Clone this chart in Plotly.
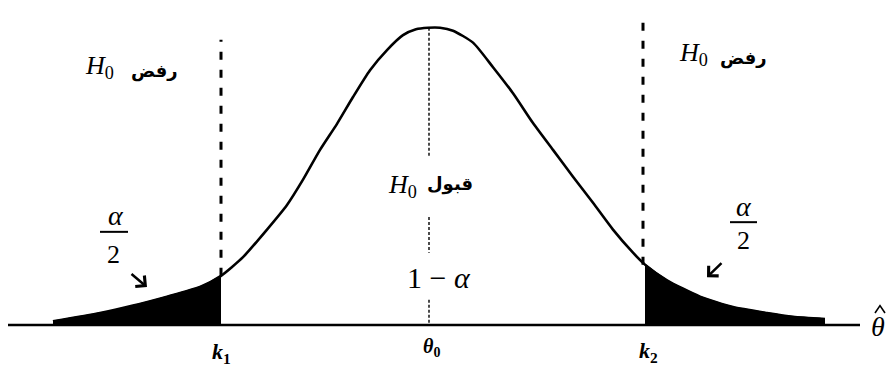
import plotly.graph_objects as go

# ---- data (x: standardised theta scale, y: density) ----
curve_x = [-3.75, -3.28, -2.95, -2.61, -2.28, -2.07, -1.85, -1.61, -1.41, -1.25, -1.08,
           -0.91, -0.75, -0.58, -0.41, -0.25, -0.12, 0.00, 0.12, 0.25, 0.45, 0.65, 0.85,
           1.05, 1.25, 1.45, 1.65, 1.85, 2.05, 2.17, 2.39, 2.72, 3.05, 3.39, 3.65, 3.97]
curve_y = [0.005, 0.016, 0.026, 0.038, 0.051, 0.066, 0.091, 0.128, 0.161, 0.195, 0.235,
           0.270, 0.306, 0.342, 0.369, 0.389, 0.397, 0.399, 0.399, 0.395, 0.379, 0.346,
           0.311, 0.271, 0.235, 0.199, 0.164, 0.128, 0.097, 0.081, 0.060, 0.038, 0.024,
           0.016, 0.011, 0.008]
k1 = -2.07
k2 = 2.17
theta0 = 0.01
k1_line_y = [0.066, 0.383]
k2_line_y = [0.081, 0.407]
center_line_y = [0.399, 0.225, None, 0.145, 0.097, None, 0.034, 0.0]
axis_x = [-4.20, 4.32]

tick_labels = {"k1": "<b><i>k</i></b><sub><b>1</b></sub>",
               "theta0": "<b><i>θ</i></b><sub><b>0</b></sub>",
               "k2": "<b><i>k</i></b><sub><b>2</b></sub>",
               "thetahat": "<i>θ</i>"}
reject_ar = "رفض"
accept_ar = "قبول"

left_x = [x for x in curve_x if x <= k1]
left_y = [y for x, y in zip(curve_x, curve_y) if x <= k1]
right_x = [x for x in curve_x if x >= k2]
right_y = [y for x, y in zip(curve_x, curve_y) if x >= k2]

fig = go.Figure()

# shaded tails
for tx, ty in ((left_x, left_y), (right_x, right_y)):
    fig.add_trace(go.Scatter(x=tx, y=ty, mode="lines", fill="tozeroy",
                             fillcolor="black", line=dict(color="black", width=1.5,
                                                          shape="spline", smoothing=0.6),
                             hoverinfo="skip"))

# baseline axis
fig.add_trace(go.Scatter(x=axis_x, y=[0, 0], mode="lines",
                         line=dict(color="black", width=2.5), hoverinfo="skip"))

# the bell curve
fig.add_trace(go.Scatter(x=curve_x, y=curve_y, mode="lines",
                         line=dict(color="black", width=2.6, shape="spline", smoothing=0.6),
                         hoverinfo="skip"))

# critical value dashed lines
fig.add_trace(go.Scatter(x=[k1, k1], y=k1_line_y, mode="lines",
                         line=dict(color="black", width=3, dash="8px,10px"), hoverinfo="skip"))
fig.add_trace(go.Scatter(x=[k2 - 0.02, k2 - 0.02], y=k2_line_y, mode="lines",
                         line=dict(color="black", width=3, dash="8px,10px"), hoverinfo="skip"))
# centre dashed line
fig.add_trace(go.Scatter(x=[theta0] * len(center_line_y), y=center_line_y, mode="lines",
                         line=dict(color="black", width=1.4, dash="3px,2px"),
                         connectgaps=False, hoverinfo="skip"))

serif = "Liberation Serif"
arab = "DejaVu Sans"

def txt(x, y, text, size, family=serif, color="black"):
    fig.add_annotation(x=x, y=y, text=text, showarrow=False, xanchor="center",
                       yanchor="middle", font=dict(family=family, size=size, color=color))

# H0 labels
txt(-3.29, 0.346, "<i>H</i><sub>0</sub>", 26)
txt(-2.74, 0.341, "<b>" + reject_ar + "</b>", 18, arab)
txt(2.65, 0.364, "<i>H</i><sub>0</sub>", 26)
txt(3.15, 0.358, "<b>" + reject_ar + "</b>", 18, arab)
txt(-0.26, 0.187, "<i>H</i><sub>0</sub>", 26)
txt(0.22, 0.189, "<b>" + accept_ar + "</b>", 18, arab)
txt(0.11, 0.064, "1 − <i>α</i>", 30)

# alpha/2 fractions
txt(-3.12, 0.147, "<i>α</i>", 28)
txt(-3.15, 0.095, "2", 26)
txt(3.16, 0.159, "<i>α</i>", 28)
txt(3.15, 0.113, "2", 26)
fig.add_shape(type="line", x0=-3.28, x1=-3.00, y0=0.125, y1=0.125,
              line=dict(color="black", width=2))
fig.add_shape(type="line", x0=3.02, x1=3.29, y0=0.138, y1=0.138,
              line=dict(color="black", width=2))

# arrows
fig.add_annotation(x=-2.81, y=0.051, ax=-2.98, ay=0.070, axref="x", ayref="y",
                   showarrow=True, arrowhead=4, arrowsize=1.1, arrowwidth=2.5,
                   arrowcolor="black", text="")
fig.add_annotation(x=2.79, y=0.064, ax=2.95, ay=0.085, axref="x", ayref="y",
                   showarrow=True, arrowhead=4, arrowsize=1.1, arrowwidth=2.5,
                   arrowcolor="black", text="")

# axis labels
txt(k1, -0.038, tick_labels["k1"], 22)
txt(0.03, -0.030, tick_labels["theta0"], 20)
txt(2.20, -0.036, tick_labels["k2"], 22)
txt(4.50, -0.002, tick_labels["thetahat"], 28)
# hat over theta
fig.add_shape(type="path", path="M 4.47,0.016 L 4.52,0.026 L 4.57,0.016",
              line=dict(color="black", width=1.6))

fig.update_layout(width=888, height=367, margin=dict(l=0, r=0, t=0, b=0),
                  paper_bgcolor="white", plot_bgcolor="white", showlegend=False,
                  xaxis=dict(range=[-4.28, 4.60], visible=False, fixedrange=True),
                  yaxis=dict(range=[-0.0564, 0.4362], visible=False, fixedrange=True))

fig.write_html("out.html", config={"displayModeBar": False},
               post_script="document.body.style.margin='0';document.body.style.overflow='hidden';")
